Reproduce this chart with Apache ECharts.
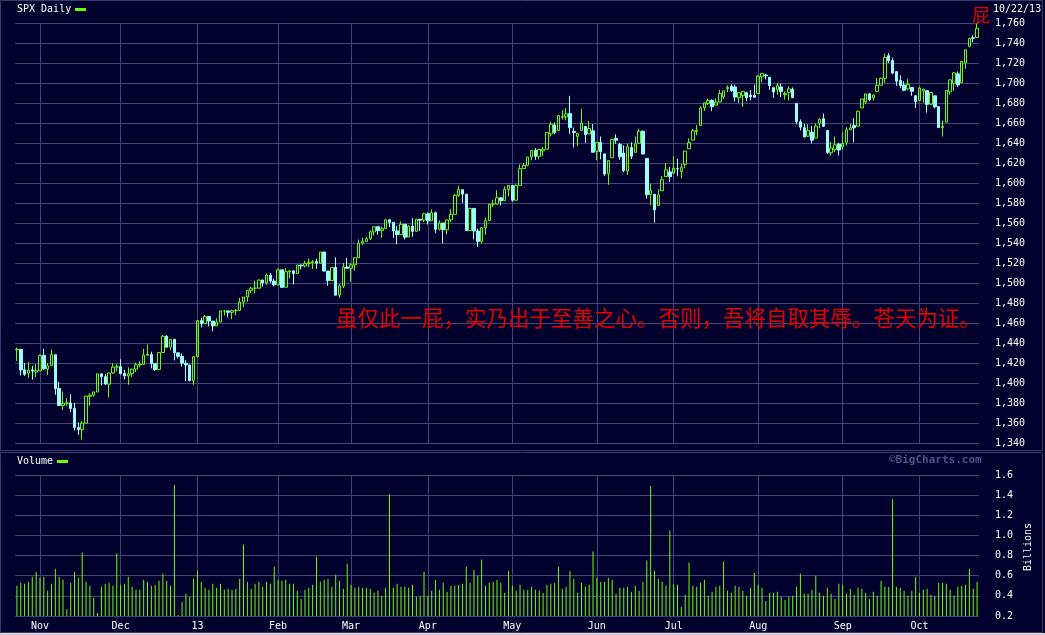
<!DOCTYPE html>
<html>
<head>
<meta charset="utf-8">
<script src="https://cdn.jsdelivr.net/npm/echarts/dist/echarts.min.js"></script>
<style>
html,body{margin:0;padding:0;background:#02012e;}
#c{width:1045px;height:635px;}
</style>
</head>
<body>
<div id="c"></div>
<script>
// ---------- DATA ----------
const dates = [
'2012-10-22','2012-10-23','2012-10-24','2012-10-25','2012-10-26','2012-10-31',
'2012-11-01','2012-11-02','2012-11-05','2012-11-06','2012-11-07','2012-11-08','2012-11-09','2012-11-12','2012-11-13','2012-11-14','2012-11-15','2012-11-16','2012-11-19','2012-11-20','2012-11-21','2012-11-23','2012-11-26','2012-11-27','2012-11-28','2012-11-29','2012-11-30',
'2012-12-03','2012-12-04','2012-12-05','2012-12-06','2012-12-07','2012-12-10','2012-12-11','2012-12-12','2012-12-13','2012-12-14','2012-12-17','2012-12-18','2012-12-19','2012-12-20','2012-12-21','2012-12-24','2012-12-26','2012-12-27','2012-12-28','2012-12-31',
'2013-01-02','2013-01-03','2013-01-04','2013-01-07','2013-01-08','2013-01-09','2013-01-10','2013-01-11','2013-01-14','2013-01-15','2013-01-16','2013-01-17','2013-01-18','2013-01-22','2013-01-23','2013-01-24','2013-01-25','2013-01-28','2013-01-29','2013-01-30','2013-01-31',
'2013-02-01','2013-02-04','2013-02-05','2013-02-06','2013-02-07','2013-02-08','2013-02-11','2013-02-12','2013-02-13','2013-02-14','2013-02-15','2013-02-19','2013-02-20','2013-02-21','2013-02-22','2013-02-25','2013-02-26','2013-02-27','2013-02-28',
'2013-03-01','2013-03-04','2013-03-05','2013-03-06','2013-03-07','2013-03-08','2013-03-11','2013-03-12','2013-03-13','2013-03-14','2013-03-15','2013-03-18','2013-03-19','2013-03-20','2013-03-21','2013-03-22','2013-03-25','2013-03-26','2013-03-27','2013-03-28',
'2013-04-01','2013-04-02','2013-04-03','2013-04-04','2013-04-05','2013-04-08','2013-04-09','2013-04-10','2013-04-11','2013-04-12','2013-04-15','2013-04-16','2013-04-17','2013-04-18','2013-04-19','2013-04-22','2013-04-23','2013-04-24','2013-04-25','2013-04-26','2013-04-29','2013-04-30',
'2013-05-01','2013-05-02','2013-05-03','2013-05-06','2013-05-07','2013-05-08','2013-05-09','2013-05-10','2013-05-13','2013-05-14','2013-05-15','2013-05-16','2013-05-17','2013-05-20','2013-05-21','2013-05-22','2013-05-23','2013-05-24','2013-05-28','2013-05-29','2013-05-30','2013-05-31',
'2013-06-03','2013-06-04','2013-06-05','2013-06-06','2013-06-07','2013-06-10','2013-06-11','2013-06-12','2013-06-13','2013-06-14','2013-06-17','2013-06-18','2013-06-19','2013-06-20','2013-06-21','2013-06-24','2013-06-25','2013-06-26','2013-06-27','2013-06-28',
'2013-07-01','2013-07-02','2013-07-03','2013-07-05','2013-07-08','2013-07-09','2013-07-10','2013-07-11','2013-07-12','2013-07-15','2013-07-16','2013-07-17','2013-07-18','2013-07-19','2013-07-22','2013-07-23','2013-07-24','2013-07-25','2013-07-26','2013-07-29','2013-07-30','2013-07-31',
'2013-08-01','2013-08-02','2013-08-05','2013-08-06','2013-08-07','2013-08-08','2013-08-09','2013-08-12','2013-08-13','2013-08-14','2013-08-15','2013-08-16','2013-08-19','2013-08-20','2013-08-21','2013-08-22','2013-08-23','2013-08-26','2013-08-27','2013-08-28','2013-08-29','2013-08-30',
'2013-09-03','2013-09-04','2013-09-05','2013-09-06','2013-09-09','2013-09-10','2013-09-11','2013-09-12','2013-09-13','2013-09-16','2013-09-17','2013-09-18','2013-09-19','2013-09-20','2013-09-23','2013-09-24','2013-09-25','2013-09-26','2013-09-27','2013-09-30',
'2013-10-01','2013-10-02','2013-10-03','2013-10-04','2013-10-07','2013-10-08','2013-10-09','2013-10-10','2013-10-11','2013-10-14','2013-10-15','2013-10-16','2013-10-17','2013-10-18','2013-10-21','2013-10-22'
];

const opens = [
1433.21,1433.74,1413.20,1409.74,1412.97,1410.99,
1412.20,1427.59,1414.02,1417.26,1428.27,1394.53,1377.55,1379.86,1380.03,1374.64,1355.41,1353.36,1359.88,1386.82,1387.79,1391.03,1409.15,1406.29,1398.77,1409.96,1415.95,
1416.34,1409.46,1407.05,1409.43,1413.95,1418.07,1418.55,1427.84,1428.48,1419.45,1413.54,1430.47,1446.79,1435.81,1443.67,1430.15,1426.66,1419.83,1418.10,1402.43,
1426.19,1462.42,1459.37,1466.47,1461.89,1457.15,1461.02,1472.00,1472.05,1470.67,1472.33,1472.63,1480.95,1485.98,1492.56,1494.81,1494.82,1502.96,1500.18,1507.84,1501.96,
1498.11,1513.17,1495.71,1511.29,1512.12,1509.39,1517.93,1517.01,1519.43,1520.33,1521.38,1519.79,1530.94,1511.95,1502.42,1515.60,1487.85,1496.94,1515.99,
1514.68,1518.20,1525.20,1539.79,1541.46,1544.26,1551.15,1556.22,1552.48,1554.52,1563.21,1560.70,1552.10,1548.34,1558.71,1545.90,1556.89,1551.69,1563.75,1562.86,
1569.18,1562.17,1570.25,1553.69,1559.98,1553.26,1563.11,1568.61,1587.73,1593.30,1588.84,1552.36,1574.57,1552.03,1541.61,1555.25,1562.50,1578.78,1578.93,1585.16,1582.34,1593.58,
1597.55,1582.77,1597.60,1614.40,1617.55,1625.95,1632.69,1626.69,1632.10,1633.75,1649.13,1658.07,1652.45,1665.71,1666.20,1669.39,1651.62,1646.67,1652.63,1656.57,1649.14,1652.13,
1631.71,1640.73,1629.05,1609.29,1625.27,1644.67,1638.64,1629.94,1612.15,1635.52,1630.64,1639.77,1651.83,1624.62,1588.62,1588.77,1577.52,1592.27,1606.44,1611.12,
1609.78,1614.29,1611.48,1618.65,1634.20,1642.89,1651.56,1657.41,1675.26,1679.59,1682.70,1677.91,1681.05,1686.15,1694.41,1696.63,1696.06,1685.21,1687.31,1690.32,1687.92,1687.76,
1689.42,1706.10,1708.01,1705.79,1695.30,1693.35,1696.10,1688.37,1690.65,1693.88,1679.61,1661.22,1655.25,1646.81,1650.66,1645.03,1659.92,1664.29,1652.54,1630.25,1633.50,1638.89,
1635.95,1640.72,1653.28,1657.44,1656.85,1675.11,1681.04,1689.21,1685.04,1691.70,1697.73,1704.70,1727.34,1722.44,1711.44,1702.60,1698.02,1694.05,1695.52,1687.26,
1682.41,1691.90,1692.35,1678.79,1687.15,1676.22,1655.45,1660.88,1691.09,1699.86,1709.17,1700.49,1720.17,1736.72,1745.20,1745.50
];

const highs = [
1435.46,1433.81,1420.04,1421.12,1417.09,1418.76,
1428.35,1434.27,1419.90,1433.38,1428.27,1401.23,1391.39,1384.87,1388.81,1380.13,1360.62,1362.03,1386.89,1389.77,1391.25,1409.16,1409.15,1409.01,1410.31,1419.70,1418.86,
1423.73,1413.14,1415.56,1413.95,1420.34,1421.64,1434.27,1438.59,1431.36,1419.45,1430.67,1448.00,1447.75,1443.70,1443.67,1430.15,1429.42,1422.80,1418.10,1426.74,
1462.43,1465.47,1467.94,1466.47,1461.89,1464.73,1472.30,1472.75,1472.05,1473.31,1473.96,1485.16,1485.98,1492.56,1496.13,1502.27,1503.26,1503.23,1509.35,1509.94,1504.19,
1514.41,1513.17,1514.96,1512.53,1512.90,1518.31,1518.31,1522.29,1524.69,1523.14,1524.24,1530.94,1530.94,1511.95,1515.64,1525.84,1498.99,1520.08,1525.34,
1519.99,1525.27,1543.47,1545.25,1545.78,1552.48,1556.27,1556.77,1556.39,1563.32,1563.62,1560.70,1557.25,1561.56,1558.71,1557.74,1564.91,1563.95,1564.07,1570.28,
1570.57,1573.66,1571.47,1562.60,1559.98,1563.07,1573.89,1589.07,1597.35,1593.30,1588.84,1575.35,1574.57,1554.38,1555.89,1565.55,1579.58,1583.00,1592.64,1585.78,1596.65,1597.57,
1597.55,1598.60,1618.46,1619.77,1626.03,1632.78,1635.01,1633.70,1636.00,1651.10,1661.49,1660.51,1667.47,1672.84,1674.93,1687.18,1655.50,1649.78,1674.21,1656.57,1661.91,1658.99,
1640.42,1646.53,1629.31,1622.56,1644.40,1648.69,1640.13,1637.71,1639.25,1640.80,1646.50,1654.19,1652.45,1624.62,1599.19,1588.77,1593.79,1606.83,1620.07,1615.94,
1626.61,1624.26,1618.97,1632.07,1644.68,1654.18,1657.92,1676.63,1680.19,1684.51,1683.73,1684.75,1693.12,1692.09,1697.61,1698.78,1698.38,1690.94,1691.85,1690.92,1693.19,1698.43,
1707.85,1709.67,1709.24,1705.79,1695.30,1700.18,1699.42,1691.49,1696.81,1695.52,1679.61,1663.60,1659.18,1658.92,1656.99,1659.55,1664.85,1669.51,1652.54,1641.18,1646.41,1640.08,
1651.35,1655.72,1659.17,1664.83,1672.40,1684.09,1689.13,1689.97,1688.73,1704.95,1705.52,1729.44,1729.86,1725.23,1711.44,1707.63,1701.71,1703.85,1695.52,1687.26,
1696.55,1693.87,1692.35,1690.87,1687.15,1676.79,1662.47,1692.56,1703.44,1711.03,1711.57,1721.76,1733.45,1745.31,1747.79,1759.33
];

const lows = [
1422.06,1407.56,1407.10,1405.14,1403.28,1405.95,
1412.20,1412.91,1408.13,1417.26,1388.14,1377.51,1373.03,1377.19,1370.78,1352.50,1348.05,1343.35,1359.88,1377.04,1386.39,1391.03,1397.68,1398.03,1385.43,1409.04,1411.63,
1408.46,1403.65,1398.23,1405.93,1410.90,1415.64,1418.55,1426.76,1414.58,1411.88,1413.54,1430.47,1435.80,1432.82,1422.58,1424.66,1416.43,1401.80,1401.58,1398.11,
1426.19,1455.53,1458.99,1456.62,1451.64,1457.15,1461.02,1467.58,1465.69,1463.76,1467.60,1472.63,1475.81,1481.16,1489.90,1489.46,1494.82,1496.33,1498.09,1500.11,1496.76,
1498.11,1495.02,1495.71,1504.71,1498.49,1509.39,1513.61,1515.61,1515.93,1514.02,1514.14,1519.79,1511.41,1497.29,1502.42,1487.85,1485.01,1494.88,1514.46,
1501.48,1512.29,1525.20,1538.11,1541.46,1542.94,1547.36,1548.24,1545.13,1554.52,1555.74,1545.13,1538.57,1548.34,1543.55,1545.90,1546.22,1551.69,1551.90,1561.08,
1558.47,1562.17,1549.80,1552.52,1539.50,1548.63,1560.92,1568.61,1586.17,1579.97,1552.28,1552.36,1543.69,1536.03,1539.40,1548.19,1562.50,1575.80,1578.93,1577.56,1582.34,1586.50,
1581.28,1582.77,1597.60,1614.21,1616.64,1622.70,1623.09,1623.71,1626.74,1633.75,1646.68,1648.60,1652.45,1663.52,1662.67,1648.86,1635.53,1636.88,1652.63,1640.05,1648.61,1630.74,
1622.72,1623.62,1607.09,1598.23,1625.27,1639.26,1622.92,1610.92,1608.07,1623.96,1630.34,1639.77,1628.91,1584.32,1577.70,1560.33,1577.09,1592.27,1606.44,1601.06,
1609.78,1606.77,1604.57,1614.71,1634.20,1642.89,1647.66,1657.41,1672.33,1677.89,1671.84,1677.91,1681.05,1684.08,1690.67,1691.13,1681.48,1680.07,1676.03,1681.86,1682.42,1684.94,
1689.42,1700.68,1703.55,1693.29,1684.91,1688.38,1686.02,1683.35,1682.62,1684.83,1658.59,1652.61,1645.84,1646.08,1639.43,1645.03,1654.81,1656.02,1629.05,1627.47,1630.88,1627.47,
1633.41,1637.41,1653.07,1640.62,1656.85,1675.11,1678.70,1681.96,1682.22,1691.70,1697.73,1700.35,1720.20,1708.89,1697.10,1694.90,1691.88,1693.11,1687.11,1674.99,
1682.07,1680.34,1670.36,1677.79,1674.70,1655.03,1646.47,1660.88,1688.52,1692.13,1695.93,1700.49,1714.12,1735.74,1740.67,1745.50
];

const closes = [
1433.82,1413.11,1408.75,1412.97,1411.94,1412.16,
1427.59,1414.20,1417.26,1428.39,1394.53,1377.51,1379.85,1380.03,1374.53,1355.49,1353.33,1359.88,1386.89,1387.81,1391.03,1409.15,1406.29,1398.94,1409.93,1415.95,1416.18,
1409.46,1407.05,1409.28,1413.94,1418.07,1418.55,1427.84,1428.48,1419.45,1413.58,1430.36,1446.79,1435.81,1443.69,1430.15,1426.66,1419.83,1418.10,1402.43,1426.19,
1462.42,1459.37,1466.47,1461.89,1457.15,1461.02,1472.12,1472.05,1470.68,1472.34,1472.63,1480.94,1485.98,1492.56,1494.81,1494.82,1502.96,1500.18,1507.84,1501.96,1498.11,
1513.17,1495.71,1511.29,1512.12,1509.39,1517.93,1517.01,1519.43,1520.33,1521.38,1519.79,1530.94,1511.95,1502.42,1515.60,1487.85,1496.94,1515.99,1514.68,
1518.20,1525.20,1539.79,1541.46,1544.26,1551.18,1556.22,1552.48,1554.52,1563.23,1560.70,1552.10,1548.34,1558.71,1545.80,1556.89,1551.69,1563.77,1562.85,1569.19,
1562.17,1570.25,1553.69,1559.98,1553.28,1563.07,1568.61,1587.73,1593.37,1588.85,1552.36,1574.57,1552.01,1541.61,1555.25,1562.50,1578.78,1578.79,1585.16,1582.24,1593.61,1597.57,
1582.70,1597.59,1614.42,1617.50,1625.96,1632.69,1626.67,1633.70,1633.77,1650.34,1658.78,1650.47,1667.47,1666.29,1669.16,1655.35,1650.51,1649.60,1660.06,1648.36,1654.41,1630.74,
1640.42,1631.38,1608.90,1622.56,1643.38,1642.81,1626.13,1612.52,1636.36,1626.73,1639.04,1651.81,1628.93,1588.19,1592.43,1573.09,1588.03,1603.26,1613.20,1606.28,
1614.96,1614.08,1615.41,1631.89,1640.46,1652.32,1652.62,1675.02,1680.19,1682.50,1676.26,1680.91,1689.37,1692.09,1695.53,1692.39,1685.94,1690.25,1691.65,1685.33,1685.96,1685.73,
1706.87,1709.67,1707.14,1697.37,1690.91,1697.48,1691.42,1689.47,1694.16,1685.39,1661.32,1655.83,1646.06,1652.35,1642.80,1656.96,1663.50,1656.78,1630.48,1634.96,1638.17,1632.97,
1639.77,1653.08,1655.08,1655.17,1671.71,1683.99,1689.13,1683.42,1687.99,1697.60,1704.76,1725.52,1722.34,1709.91,1701.84,1697.42,1692.77,1698.67,1691.75,1681.55,
1695.00,1693.87,1678.66,1690.50,1676.12,1655.45,1656.40,1692.56,1703.20,1710.14,1698.06,1721.54,1733.15,1744.50,1744.66,1754.67
];

// volume, billions of shares
const volumes = [
0.50,0.53,0.52,0.54,0.59,0.64,0.58,0.59,0.45,0.52,
0.67,0.59,0.56,0.27,0.53,0.64,0.58,0.83,0.54,0.50,
0.38,0.23,0.49,0.52,0.53,0.50,0.82,0.51,0.52,0.59,
0.49,0.46,0.46,0.56,0.54,0.50,0.51,0.55,0.62,0.55,
0.50,1.50,0.21,0.34,0.42,0.39,0.57,0.65,0.54,0.48,
0.46,0.52,0.48,0.52,0.46,0.47,0.46,0.47,0.57,0.91,
0.54,0.47,0.52,0.54,0.49,0.54,0.52,0.69,0.56,0.55,
0.56,0.52,0.52,0.45,0.37,0.46,0.48,0.51,0.79,0.54,
0.56,0.57,0.49,0.61,0.55,0.47,0.72,
0.51,0.48,0.49,0.48,0.48,0.47,0.43,0.45,0.40,0.48,
1.41,0.48,0.52,0.49,0.49,0.48,0.51,0.39,0.40,0.64,
0.40,0.45,0.56,0.46,0.53,0.44,0.50,0.50,0.51,0.52,
0.69,0.53,0.66,0.60,0.76,0.50,0.53,0.54,0.56,0.53,
0.43,0.65,0.50,0.45,0.51,0.46,0.46,0.49,0.46,0.45,
0.43,0.51,0.52,0.53,0.69,0.47,0.49,0.65,0.57,0.43,
0.53,0.49,0.51,0.84,0.58,0.54,0.54,0.58,0.56,0.42,
0.48,0.48,0.49,0.44,0.50,0.45,0.54,0.75,1.49,0.65,
0.57,0.54,0.50,1.05,0.51,0.51,0.29,0.41,
0.73,0.50,0.49,0.53,0.56,0.40,0.44,0.49,0.50,0.74,
0.45,0.43,0.50,0.49,0.45,0.40,0.48,0.63,0.51,0.48,
0.35,0.43,0.43,0.44,0.39,0.36,0.39,0.40,0.49,0.62,
0.42,0.42,0.46,0.60,0.43,0.40,0.48,0.42,0.37,0.52,
0.51,0.42,0.47,0.41,0.48,0.47,0.43,0.37,0.44,0.40,
0.55,0.49,0.49,1.36,0.49,0.48,0.45,0.40,0.45,0.59,
0.43,0.46,0.47,0.41,0.40,0.53,0.53,0.52,0.46,0.40,
0.49,0.50,0.51,0.67,0.47,0.54
];

const tickDates  = ['2012-11-01','2012-12-03','2013-01-02','2013-02-01','2013-03-01','2013-04-01','2013-05-01','2013-06-03','2013-07-01','2013-08-01','2013-09-03','2013-10-01'];
const tickLabels = ['Nov','Dec','13','Feb','Mar','Apr','May','Jun','Jul','Aug','Sep','Oct'];

const priceTitle = 'SPX Daily';
const volumeTitle = 'Volume';
const lastDateLabel = '10/22/13';
const volumeUnit = 'Billions';
const credit = '\u00a9BigCharts.com';
const overlayText = '虽仅此一屁，实乃出于至善之心。否则，吾将自取其辱。苍天为证。';
const cornerText = '屁';

// ---------- STYLE ----------
const BG = '#02012e';
const GRID = '#44447a';
const GREEN = '#66ff00';
const CYAN = '#99ffff';
const MONO = 'DejaVu Sans Mono';

const ohlc = dates.map((d, i) => [opens[i], closes[i], lows[i], highs[i]]);

function comma(v) { return String(v).replace(/\B(?=(\d{3})+(?!\d))/g, ','); }

const monthLines = tickDates.map(d => ({ xAxis: d }));
const markLineCfg = {
  silent: true, symbol: ['none', 'none'], z: 1, animation: false,
  label: { show: false },
  lineStyle: { color: GRID, width: 1, type: 'solid' },
  data: monthLines
};

const chart = echarts.init(document.getElementById('c'));
chart.setOption({
  backgroundColor: BG,
  animation: false,
  grid: [
    { left: 15, width: 964, top: 23, height: 420 },
    { left: 15, width: 964, top: 475, height: 141 }
  ],
  xAxis: [
    { type: 'category', gridIndex: 0, data: dates, boundaryGap: true,
      axisLine: { show: false }, axisTick: { show: false }, axisLabel: { show: false }, splitLine: { show: false } },
    { type: 'category', gridIndex: 1, data: dates, boundaryGap: true,
      axisLine: { show: false }, axisTick: { show: false }, splitLine: { show: false },
      axisLabel: { show: true, interval: (idx, val) => tickDates.indexOf(val) >= 0,
        formatter: val => tickLabels[tickDates.indexOf(val)],
        color: '#ffffff', fontFamily: MONO, fontSize: 10, margin: 5 } }
  ],
  yAxis: [
    { type: 'value', gridIndex: 0, position: 'right', min: 1340, max: 1760, interval: 20,
      axisLine: { show: false }, axisTick: { show: false },
      splitLine: { show: true, lineStyle: { color: GRID, width: 1 } },
      axisLabel: { color: '#ffffff', fontFamily: MONO, fontSize: 10, margin: 16, formatter: v => comma(v) } },
    { type: 'value', gridIndex: 1, position: 'right', min: 0.2, max: 1.6, interval: 0.2,
      axisLine: { show: false }, axisTick: { show: false },
      splitLine: { show: true, lineStyle: { color: GRID, width: 1 } },
      axisLabel: { color: '#ffffff', fontFamily: MONO, fontSize: 10, margin: 16, formatter: v => v.toFixed(1) } }
  ],
  series: [
    { type: 'candlestick', name: priceTitle, xAxisIndex: 0, yAxisIndex: 0, data: ohlc, barWidth: 3,
      itemStyle: { color: 'transparent', color0: CYAN, borderColor: GREEN, borderColor0: CYAN, borderWidth: 1 },
      markLine: markLineCfg },
    { type: 'bar', name: volumeTitle, xAxisIndex: 1, yAxisIndex: 1, data: volumes, barWidth: 1, clip: true,
      itemStyle: { color: GREEN }, markLine: markLineCfg }
  ],
  graphic: [
    { type: 'rect', silent: true, z: -1, shape: { x: 0.5, y: 0.5, width: 1042, height: 450 }, style: { fill: null, stroke: '#3a3a6e', lineWidth: 1 } },
    { type: 'rect', silent: true, z: -1, shape: { x: 0.5, y: 452.5, width: 1042, height: 180 }, style: { fill: null, stroke: '#3a3a6e', lineWidth: 1 } },
    { type: 'rect', silent: true, shape: { x: 0, y: 633, width: 1045, height: 2 }, style: { fill: '#d8d0d8' } },
    { type: 'text', left: 17, top: 4, style: { text: priceTitle, fill: '#ffffff', font: '10px "DejaVu Sans Mono"' } },
    { type: 'rect', shape: { x: 75, y: 8, width: 11, height: 3 }, style: { fill: GREEN } },
    { type: 'text', left: 17, top: 456, style: { text: volumeTitle, fill: '#ffffff', font: '10px "DejaVu Sans Mono"' } },
    { type: 'rect', shape: { x: 57, y: 460, width: 11, height: 3 }, style: { fill: GREEN } },
    { type: 'text', left: 993, top: 4, style: { text: lastDateLabel, fill: '#ffffff', font: '10px "DejaVu Sans Mono"' } },
    { type: 'text', left: 889, top: 455, style: { text: credit, fill: '#50508c', font: 'bold 11px "DejaVu Sans Mono"' } },
    { type: 'text', x: 1028, y: 547, rotation: Math.PI / 2,
      style: { text: volumeUnit, fill: '#ffffff', font: '10px "DejaVu Sans Mono"', align: 'center', verticalAlign: 'middle' } },
    { type: 'text', x: 336, y: 318, z: 10,
      style: { text: overlayText, fill: '#e60000', font: '21.5px "Noto Sans CJK SC"', verticalAlign: 'middle' } },
    { type: 'text', x: 972, y: 15, z: 10,
      style: { text: cornerText, fill: '#e60000', font: '18px "Noto Sans CJK SC"', verticalAlign: 'middle' } }
  ]
});
</script>
</body>
</html>
